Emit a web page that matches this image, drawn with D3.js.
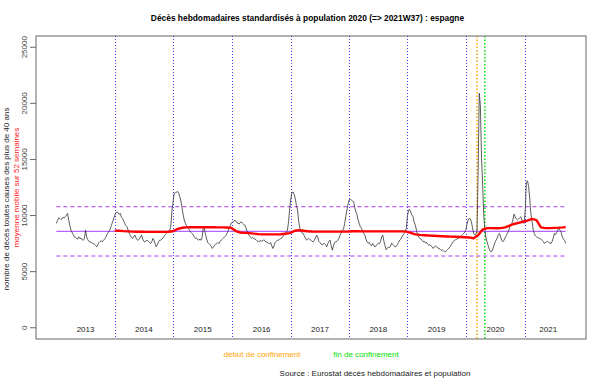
<!DOCTYPE html>
<html><head><meta charset="utf-8">
<script src="https://cdn.jsdelivr.net/npm/d3@7"></script>
<style>body{margin:0;background:#fff}svg{display:block}</style>
</head><body><svg id="c" width="605" height="384"></svg>
<script>
// ---- data ----
const years = ["2013","2014","2015","2016","2017","2018","2019","2020","2021"];
const yearStartWeek = [0,52,104,157,209,261,313,365,418];
const lastWeekIndex = 454;
const v2013 = [9300,9550,9800,9750,9650,9700,9850,9800,9900,10050,10190,9600,9150,8700,8500,8300,8100,8050,7950,7900,8100,7950,8000,7850,7800,7950,8700,8100,7850,7700,7650,7600,7550,7500,7450,7350,7215,7400,7600,7700,7750,7650,7800,7900,8050,8300,8450,8600,8800,9100,9400,9700];
const v2014 = [10000,10250,10300,10250,10100,10190,9850,9750,9500,9300,9100,9000,8700,8410,8200,8050,7960,8150,8260,8000,7850,7810,7900,8100,8260,7900,7700,7660,7750,7810,7700,7600,7520,7650,7960,7800,7500,7215,7400,7650,7810,7800,7900,8000,8150,8300,8400,8500,8600,8700,9000,10400];
const v2015 = [11200,11970,12000,12100,12150,12000,11700,11300,10700,10100,9600,9300,9100,8900,8800,8650,8500,8400,8250,8100,7960,8000,7850,7810,7900,7800,8100,9000,8800,8300,7900,7600,7500,7400,7250,7070,7200,7370,7450,7500,7600,7500,7700,7810,7900,8000,8100,8200,8400,8600,8900,9100,9350];
const v2016 = [9400,9440,9600,9500,9350,9300,9250,9400,9440,9300,9200,9150,8900,8600,8410,8200,8100,7960,8050,7960,7900,7850,7750,7700,7660,7800,7700,7750,7850,7700,7660,7600,7550,7500,7600,7300,7070,7300,7600,7700,7810,7800,7900,7950,8000,8150,8300,8410,8550,8700,9440,10640];
const v2017 = [11500,12050,12100,11900,11500,10900,10500,9500,8900,8600,8450,8410,8200,8000,7810,7900,7960,7850,7800,7700,7660,7800,8000,8260,8100,7700,7600,7450,7370,7500,7520,7400,7215,7500,7700,7810,7300,6920,7300,7600,7660,7700,7810,8000,8260,8440,8700,8800,9300,9900,10490,11000];
const v2018 = [11400,11450,11380,11300,11230,10700,10330,10100,9600,9300,9000,8860,8600,8400,8260,7900,7660,7540,7600,7400,7300,7500,7350,7200,7300,7450,7540,7500,7700,8100,8260,7700,7300,6950,7070,7200,7150,7300,7540,7400,7300,7215,7250,7400,7600,7810,7900,8100,8260,8400,8600,8860];
const v2019 = [10000,10490,10550,10300,10040,9890,9400,9150,8700,8260,8100,7960,7900,7800,7660,7700,7550,7600,7450,7370,7400,7300,7215,7070,7200,7300,7215,7100,7070,7000,6900,6950,6850,6800,6770,6900,7000,7100,7215,7400,7550,7700,7810,7850,7900,7960,8000,8100,8200,8300,8410,8500];
const v2020 = [8700,9200,9600,9750,9700,9450,8900,8400,8260,8300,8700,14000,20900,19800,15200,12800,10000,8700,8000,7660,7300,7000,6800,6770,7000,7300,7600,7810,8000,8300,8410,8100,7800,7660,7800,8000,8200,8410,8600,8900,9200,9300,9600,10130,9900,9700,9600,9700,9800,9890,9600,9400,9300];
const v2021 = [10500,13000,13100,12600,11500,10190,9500,8800,8410,8200,8110,8050,8000,7960,7900,7800,7700,7520,7600,7660,7700,7600,7550,7520,7700,8000,8410,8300,8500,8700,8860,8700,8500,8110,7900,7800,7520];
// 52-week moving average, read every 4 weeks from week index 52, plus last week
const maWeeks = d3.range(52, 453, 4).concat([454]);
const maValues = [8660,8640,8610,8590,8570,8560,8555,8550,8550,8550,8550,8550,8555,8600,8800,8910,8950,8960,8960,8960,8960,8960,8955,8950,8945,8940,8900,8620,8490,8460,8430,8390,8350,8320,8320,8320,8320,8330,8380,8430,8620,8700,8650,8600,8580,8570,8570,8570,8570,8570,8570,8570,8580,8600,8600,8590,8590,8590,8590,8590,8590,8590,8590,8590,8590,8570,8450,8320,8280,8250,8220,8200,8180,8160,8140,8120,8110,8090,8070,8050,7980,8250,8750,8880,8880,8870,8880,8950,9100,9250,9350,9450,9550,9700,9600,8950,8880,8880,8900,8920,8950,8980];
const meanValue = 8590, upperValue = 10785, lowerValue = 6395;
const lockdownStartWeek = 375, lockdownEndWeek = 382;
const yTicks = [0,5000,10000,15000,20000,25000];
const yTickLabels = ["0","5000","10000","15000","20000","25000"];

const titleText = "Décès hebdomadaires standardisés à population 2020 (=> 2021W37) : espagne";
const yTitle1 = "nombre de décès toutes causes des plus de 40 ans";
const yTitle2 = "moyenne mobile sur 52 semaines";
const legStart = "début de confinement", legEnd = "fin de confinement";
const sourceText = "Source : Eurostat décès hebdomadaires et population";

// ---- chart ----
const weekly = [].concat(v2013,v2014,v2015,v2016,v2017,v2018,v2019,v2020,v2021);
const svg = d3.select("#c");
const L=36, R=586, T=36, B=339;
const pad = lastWeekIndex*0.04;
const x = d3.scaleLinear().domain([-pad, lastWeekIndex+pad]).range([L,R]);
const y = d3.scaleLinear().domain([-1000, 26000]).range([B,T]);
const font = "'Liberation Sans', Arial, sans-serif";

// year lines
svg.append("g").selectAll("line").data(yearStartWeek.slice(1)).join("line")
  .attr("x1",d=>Math.round(x(d))+0.5).attr("x2",d=>Math.round(x(d))+0.5).attr("y1",T).attr("y2",B)
  .attr("stroke","#3a3aff").attr("stroke-width",1).attr("stroke-dasharray","1,2");

// lockdown lines
svg.append("line").attr("x1",x(lockdownStartWeek)).attr("x2",x(lockdownStartWeek)).attr("y1",T).attr("y2",B)
  .attr("stroke","#ffa500").attr("stroke-width",1.5).attr("stroke-dasharray","1.5,2");
svg.append("line").attr("x1",x(lockdownEndWeek)).attr("x2",x(lockdownEndWeek)).attr("y1",T).attr("y2",B)
  .attr("stroke","#00e000").attr("stroke-width",1.5).attr("stroke-dasharray","1.5,2");

// horizontal reference lines
svg.append("line").attr("x1",x(0)).attr("x2",x(lastWeekIndex)).attr("y1",y(meanValue)).attr("y2",y(meanValue))
  .attr("stroke","#b266ff").attr("stroke-width",1.2);
[upperValue, lowerValue].forEach(v=>{
  svg.append("line").attr("x1",x(0)).attr("x2",x(lastWeekIndex)).attr("y1",y(v)).attr("y2",y(v))
    .attr("stroke","#a63cf0").attr("stroke-width",1).attr("stroke-dasharray","4,3");
});

// weekly line
svg.append("path").datum(weekly)
  .attr("d", d3.line().x((d,i)=>x(i)).y(d=>y(d)))
  .attr("fill","none").attr("stroke","#333").attr("stroke-width",0.8);

// moving average
svg.append("path").datum(maValues)
  .attr("d", d3.line().x((d,i)=>x(maWeeks[i])).y(d=>y(d)))
  .attr("fill","none").attr("stroke","#ff0000").attr("stroke-width",2.4).attr("stroke-linejoin","round");

// year labels
const yearEnds = yearStartWeek.slice(1).concat([459]);
svg.append("g").selectAll("text").data(years).join("text")
  .attr("x",(d,i)=>x((yearStartWeek[i]+yearEnds[i])/2)).attr("y",332)
  .attr("text-anchor","middle").attr("font-family",font).attr("font-size",8).attr("fill","#222")
  .text(d=>d);

// box
svg.append("rect").attr("x",L).attr("y",T).attr("width",R-L).attr("height",B-T)
  .attr("fill","none").attr("stroke","#666").attr("stroke-width",1);

// y axis
const ax = svg.append("g");
ax.selectAll("line").data(yTicks).join("line")
  .attr("x1",30).attr("x2",L).attr("y1",d=>y(d)).attr("y2",d=>y(d)).attr("stroke","#666");
ax.selectAll("text").data(yTicks).join("text")
  .attr("transform",d=>`translate(26.5,${y(d)}) rotate(-90)`)
  .attr("text-anchor","middle").attr("font-family",font).attr("font-size",8).attr("fill","#444")
  .text((d,i)=>yTickLabels[i]);

// y titles
svg.append("text").attr("transform","translate(8.5,199) rotate(-90)").attr("text-anchor","middle")
  .attr("font-family",font).attr("font-size",8).attr("fill","#222").text(yTitle1);
svg.append("text").attr("transform","translate(18.5,187.5) rotate(-90)").attr("text-anchor","middle")
  .attr("font-family",font).attr("font-size",8).attr("fill","#ff2020").text(yTitle2);

// title
svg.append("text").attr("x",307.5).attr("y",21).attr("text-anchor","middle")
  .attr("font-family",font).attr("font-size",8.4).attr("font-weight","bold").attr("fill","#000").text(titleText);

// legend
svg.append("text").attr("x",262).attr("y",357).attr("text-anchor","middle")
  .attr("font-family",font).attr("font-size",8).attr("fill","#ffa500").text(legStart);
svg.append("text").attr("x",366).attr("y",357).attr("text-anchor","middle")
  .attr("font-family",font).attr("font-size",8).attr("fill","#00e000").text(legEnd);
svg.append("text").attr("x",375).attr("y",375.5).attr("text-anchor","middle")
  .attr("font-family",font).attr("font-size",8).attr("fill","#222").text(sourceText);
</script>
</body></html>
